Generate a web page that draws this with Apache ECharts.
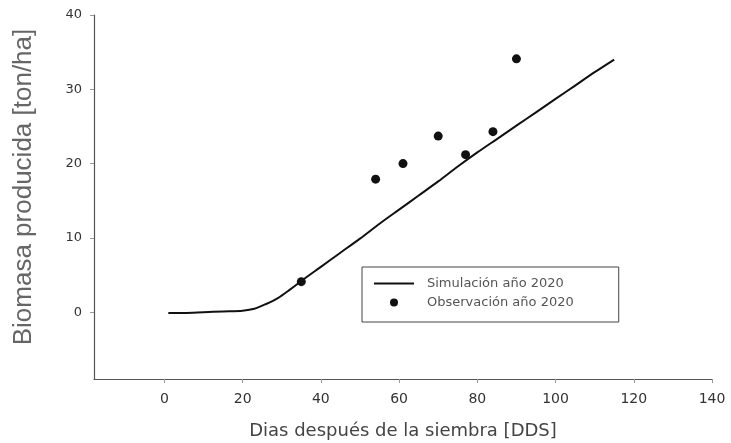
<!DOCTYPE html>
<html>
<head>
<meta charset="utf-8">
<script src="https://cdn.jsdelivr.net/npm/echarts@6/dist/echarts.min.js"></script>
<style>
html,body{margin:0;padding:0;background:#fff;}
#c{width:731px;height:443px;}
</style>
</head>
<body>
<div id="c"></div>
<script>
// Simulated biomass (days after sowing, ton/ha)
const simDays = [1, 5, 10, 15, 20, 23, 26, 29, 32, 35, 40, 45, 50, 55, 60, 65, 70, 75, 80, 85, 90, 95, 100, 105, 110, 115];
const simBiomass = [-0.1, -0.1, 0.0, 0.1, 0.2, 0.45, 1.1, 1.9, 3.0, 4.2, 6.1, 8.0, 9.9, 11.9, 13.8, 15.7, 17.6, 19.6, 21.5, 23.3, 25.1, 26.9, 28.7, 30.5, 32.3, 34.0];
// Observed biomass
const obsDays = [35, 54, 61, 70, 77, 84, 90];
const obsBiomass = [4.1, 17.9, 20.0, 23.7, 21.2, 24.3, 34.1];
// Tick labels
const xTicks = [0, 20, 40, 60, 80, 100, 120, 140];
const yTicks = [0, 10, 20, 30, 40];

const simName = 'Simulación año 2020';
const obsName = 'Observación año 2020';

const chart = echarts.init(document.getElementById('c'), null, {renderer: 'canvas'});
const axisColor = '#555';
chart.setOption({
  animation: false,
  backgroundColor: '#fff',
  grid: {left: 94, right: 19, top: 15, bottom: 64, containLabel: false, outerBoundsMode: 'none'},
  legend: {
    orient: 'vertical',
    left: 362,
    top: 267,
    itemWidth: 40,
    itemHeight: 8,
    itemGap: 6,
    padding: [10, 45, 13, 11],
    borderColor: '#444',
    borderWidth: 1,
    textStyle: {fontFamily: 'DejaVu Sans', fontSize: 13, color: '#555', padding: [0, 0, 0, 8]},
    data: [
      {name: simName, itemStyle: {opacity: 0}, lineStyle: {color: '#111', width: 2, opacity: 1}},
      {name: obsName, icon: 'circle'}
    ]
  },
  xAxis: {
    type: 'value',
    min: -18,
    max: 140,
    name: 'Dias después de la siembra [DDS]',
    nameLocation: 'middle',
    nameGap: 43,
    nameTextStyle: {fontFamily: 'DejaVu Sans', fontSize: 18, color: '#444'},
    axisLine: {show: true, onZero: false, lineStyle: {color: axisColor, width: 1.2}},
    axisTick: {show: true, length: 4, lineStyle: {color: '#999'}, customValues: xTicks},
    axisLabel: {fontFamily: 'DejaVu Sans', fontSize: 14, color: '#333', margin: 13, customValues: xTicks},
    splitLine: {show: false}
  },
  yAxis: {
    type: 'value',
    min: -9,
    max: 40,
    name: 'Biomasa producida [ton/ha]',
    nameLocation: 'middle',
    nameGap: 57,
    nameTextStyle: {fontFamily: 'Liberation Sans', fontSize: 26, color: '#666', padding: [0, 0, 0, 20]},
    axisLine: {show: true, onZero: false, lineStyle: {color: axisColor, width: 1.2}},
    axisTick: {show: true, length: 4, lineStyle: {color: '#999'}, customValues: yTicks},
    axisLabel: {fontFamily: 'DejaVu Sans', fontSize: 13, color: '#333', margin: 12, customValues: yTicks},
    splitLine: {show: false}
  },
  series: [
    {
      name: simName,
      type: 'line',
      data: simDays.map((d, i) => [d, simBiomass[i]]),
      symbol: 'none',
      smooth: 0.3,
      lineStyle: {color: '#111', width: 2},
      itemStyle: {color: '#111'}
    },
    {
      name: obsName,
      type: 'scatter',
      data: obsDays.map((d, i) => [d, obsBiomass[i]]),
      symbol: 'circle',
      symbolSize: 9,
      symbolKeepAspect: true,
      itemStyle: {color: '#111', opacity: 1}
    }
  ]
});
</script>
</body>
</html>
